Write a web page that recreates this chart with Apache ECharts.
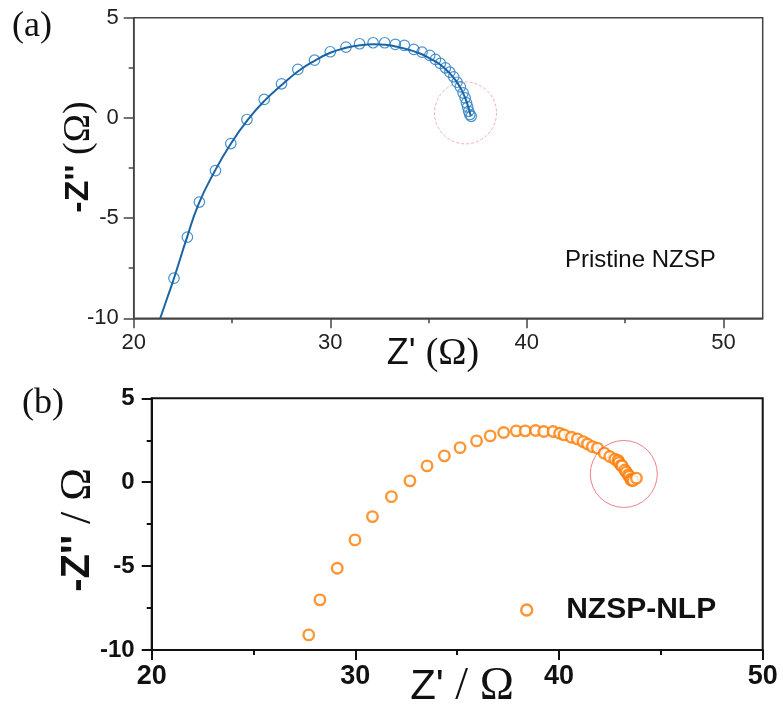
<!DOCTYPE html>
<html>
<head>
<meta charset="utf-8">
<script src="https://cdn.jsdelivr.net/npm/echarts@6/dist/echarts.min.js"></script>
<style>
  html, body { margin: 0; padding: 0; background: #fff; }
  #chart { width: 783px; height: 711px; }
</style>
</head>
<body>
<div id="chart"></div>
<script>
// Panel (a): pristine NZSP, measured points and equivalent-circuit fit
const pristineRe = [22.05, 22.73, 23.34, 24.16, 24.94, 25.76, 26.64, 27.52, 28.35, 29.2, 30.0, 30.8, 31.49, 32.18, 32.77, 33.31, 33.77, 34.25, 34.67, 35.06, 35.35, 35.6, 35.86, 36.08, 36.28, 36.45, 36.62, 36.76, 36.86, 36.93, 36.99, 37.04, 37.1, 37.17];
const pristineIm = [-8.0, -5.95, -4.2, -2.63, -1.28, -0.08, 0.92, 1.7, 2.42, 2.88, 3.3, 3.53, 3.7, 3.75, 3.75, 3.67, 3.62, 3.42, 3.28, 3.12, 2.92, 2.72, 2.5, 2.28, 2.05, 1.78, 1.55, 1.25, 1.0, 0.75, 0.55, 0.33, 0.17, 0.08];
const fitRe = [21.35, 21.7, 22.05, 22.7, 23.3, 24.1, 24.9, 25.8, 26.7, 27.6, 28.4, 29.2, 30.0, 30.8, 31.5, 32.2, 32.8, 33.4, 34.0, 34.6, 35.1, 35.6, 36.0, 36.4, 36.7, 36.9, 37.05, 37.15];
const fitIm = [-10, -9.0, -8.0, -6.0, -4.3, -2.7, -1.35, -0.1, 0.9, 1.7, 2.35, 2.85, 3.25, 3.5, 3.62, 3.67, 3.65, 3.55, 3.4, 3.2, 2.95, 2.65, 2.3, 1.85, 1.35, 0.9, 0.45, 0.1];

// Panel (b): NZSP-NLP measured points
const nlpRe = [27.71, 28.26, 29.11, 29.98, 30.84, 31.77, 32.68, 33.52, 34.37, 35.14, 35.95, 36.62, 37.28, 37.9, 38.34, 38.85, 39.25, 39.71, 40.03, 40.25, 40.61, 40.9, 41.18, 41.4, 41.64, 41.89, 42.22, 42.49, 42.74, 42.9, 42.94, 43.05, 43.1, 43.23, 43.3, 43.4, 43.45, 43.53, 43.55, 43.64, 43.8];
const nlpIm = [-9.1, -7.01, -5.13, -3.44, -2.05, -0.86, 0.08, 0.97, 1.57, 2.06, 2.46, 2.76, 2.96, 3.06, 3.06, 3.08, 3.02, 3.02, 2.92, 2.82, 2.68, 2.58, 2.42, 2.28, 2.12, 2.03, 1.73, 1.53, 1.37, 1.3, 1.17, 1.0, 0.97, 0.73, 0.6, 0.44, 0.35, 0.18, 0.12, 0.1, 0.24];

// Highlighted low-frequency regions (centre Z', -Z'')
const focusTop = [36.88, 0.25];
const focusBottom = [43.18, 0.49];

// Axis ticks
const xMajorTicks = [20, 30, 40, 50];
const xMinorTicks = [25, 35, 45];

const zip = (xs, ys) => xs.map((x, i) => [x, ys[i]]);

const SANS = '"Liberation Sans", Arial, sans-serif';
const SERIF = '"Liberation Serif", "Times New Roman", serif';
const ORANGE = '#ff7b00';

const chart = echarts.init(document.getElementById('chart'), null, { renderer: 'canvas' });

chart.setOption({
  animation: false,
  backgroundColor: '#fff',
  grid: [
    { left: 133.7, top: 17.7, width: 629, height: 300.6, show: true, borderColor: '#444', borderWidth: 1.5, backgroundColor: 'transparent' },
    { left: 151.7, top: 398.3, width: 611, height: 251.7, show: true, borderColor: '#111', borderWidth: 2, backgroundColor: 'transparent' }
  ],
  xAxis: [
    {
      gridIndex: 0, type: 'value', min: 20, max: 52, interval: 10,
      axisLine: { show: true, onZero: false, lineStyle: { color: '#444', width: 1.5 } },
      axisTick: { show: true, inside: false, length: 10, customValues: xMajorTicks, lineStyle: { color: '#444', width: 1.5 } },
      axisLabel: { show: true, customValues: xMajorTicks, margin: 14, fontFamily: SANS, fontSize: 22, color: '#222' },
      splitLine: { show: false }
    },
    {
      gridIndex: 0, type: 'value', min: 20, max: 52, position: 'bottom',
      axisLine: { show: false, onZero: false },
      axisTick: { show: true, inside: false, length: 5, customValues: xMinorTicks, lineStyle: { color: '#444', width: 1.5 } },
      axisLabel: { show: false },
      splitLine: { show: false }
    },
    {
      gridIndex: 1, type: 'value', min: 20, max: 50, interval: 10,
      axisLine: { show: true, onZero: false, lineStyle: { color: '#111', width: 2 } },
      axisTick: { show: true, inside: false, length: 10, lineStyle: { color: '#111', width: 2 } },
      minorTick: { show: true, splitNumber: 2, length: 5, lineStyle: { color: '#111', width: 2 } },
      axisLabel: { show: true, margin: 13, fontFamily: SANS, fontSize: 27, fontWeight: 'bold', color: '#111' },
      splitLine: { show: false }
    }
  ],
  yAxis: [
    {
      gridIndex: 0, type: 'value', min: -10, max: 5, interval: 5,
      axisLine: { show: true, onZero: false, lineStyle: { color: '#444', width: 1.5 } },
      axisTick: { show: true, inside: false, length: 10, lineStyle: { color: '#444', width: 1.5 } },
      minorTick: { show: true, splitNumber: 2, length: 5, lineStyle: { color: '#444', width: 1.5 } },
      axisLabel: { show: true, margin: 15, fontFamily: SANS, fontSize: 22, color: '#222' },
      splitLine: { show: false }
    },
    {
      gridIndex: 1, type: 'value', min: -10, max: 5, interval: 5,
      axisLine: { show: true, onZero: false, lineStyle: { color: '#111', width: 2 } },
      axisTick: { show: true, inside: false, length: 10, lineStyle: { color: '#111', width: 2 } },
      minorTick: { show: true, splitNumber: 2, length: 5, lineStyle: { color: '#111', width: 2 } },
      axisLabel: { show: true, margin: 17, fontFamily: SANS, fontSize: 24, fontWeight: 'bold', color: '#111' },
      splitLine: { show: false }
    }
  ],
  legend: {
    left: 515, top: 590,
    itemWidth: 11, itemHeight: 11,
    textStyle: { fontFamily: SANS, fontSize: 30, fontWeight: 'bold', color: '#111', padding: [0, 0, 0, 29] },
    data: [{ name: 'NZSP-NLP', icon: 'circle', itemStyle: { color: '#fff', borderColor: ORANGE, borderWidth: 2.4 } }]
  },
  graphic: [
    { type: 'text', left: 12, top: 9, style: { text: '(a)', font: '36px ' + SERIF, fill: '#111' } },
    { type: 'text', left: 22, top: 386, style: { text: '(b)', font: '36px ' + SERIF, fill: '#111' } },
    {
      type: 'text', left: 565, top: 248,
      style: { text: 'Pristine NZSP', font: '24px ' + SANS, fill: '#111' }
    },
    {
      type: 'text', x: 433, y: 354,
      style: {
        text: "{a|Z' }{b|(Ω)}", align: 'center', verticalAlign: 'middle',
        rich: {
          a: { fontFamily: SANS, fontSize: 36, fill: '#111' },
          b: { fontFamily: SERIF, fontSize: 38, fill: '#111' }
        }
      }
    },
    {
      type: 'text', x: 79, y: 157, rotation: Math.PI / 2,
      style: {
        text: "{a|-Z'' }{b|(Ω)}", align: 'center', verticalAlign: 'middle',
        rich: {
          a: { fontFamily: SANS, fontSize: 34, fontWeight: 'bold', fill: '#111' },
          b: { fontFamily: SERIF, fontSize: 38, fill: '#111' }
        }
      }
    },
    {
      type: 'text', x: 462, y: 687,
      style: {
        text: "{a|Z'}{b| / Ω}", align: 'center', verticalAlign: 'middle',
        rich: {
          a: { fontFamily: SANS, fontSize: 42, fill: '#111' },
          b: { fontFamily: SERIF, fontSize: 46, fill: '#111' }
        }
      }
    },
    {
      type: 'text', x: 78, y: 530, rotation: Math.PI / 2,
      style: {
        text: "{a|-Z''}{b| / Ω}", align: 'center', verticalAlign: 'middle',
        rich: {
          a: { fontFamily: SANS, fontSize: 40, fontWeight: 'bold', fill: '#111' },
          b: { fontFamily: SERIF, fontSize: 44, fill: '#111' }
        }
      }
    }
  ],
  series: [
    {
      name: 'focus-a', type: 'scatter', xAxisIndex: 0, yAxisIndex: 0,
      data: [focusTop], symbol: 'circle', symbolSize: 62, silent: true, z: 1,
      itemStyle: { color: 'transparent', borderColor: '#f59a9a', borderWidth: 1, borderType: [3, 2] }
    },
    {
      name: 'Pristine NZSP', type: 'scatter', xAxisIndex: 0, yAxisIndex: 0,
      data: zip(pristineRe, pristineIm), symbol: 'circle', symbolSize: 10.5, z: 2,
      itemStyle: { color: 'transparent', borderColor: '#3585c6', borderWidth: 1.2, opacity: 0.9 }
    },
    {
      name: 'Fit', type: 'line', xAxisIndex: 0, yAxisIndex: 0,
      data: zip(fitRe, fitIm), smooth: true, showSymbol: false, z: 3,
      lineStyle: { color: '#1a64a6', width: 2 }
    },
    {
      name: 'NZSP-NLP', type: 'scatter', xAxisIndex: 2, yAxisIndex: 1,
      data: zip(nlpRe, nlpIm), symbol: 'circle', symbolSize: 10.5, z: 2,
      itemStyle: { color: '#fff', borderColor: ORANGE, borderWidth: 2.4 }
    },
    {
      name: 'focus-b', type: 'scatter', xAxisIndex: 2, yAxisIndex: 1,
      data: [focusBottom], symbol: 'circle', symbolSize: 67, silent: true, z: 4,
      itemStyle: { color: 'transparent', borderColor: '#e8606e', borderWidth: 1 }
    }
  ]
});
</script>
</body>
</html>
